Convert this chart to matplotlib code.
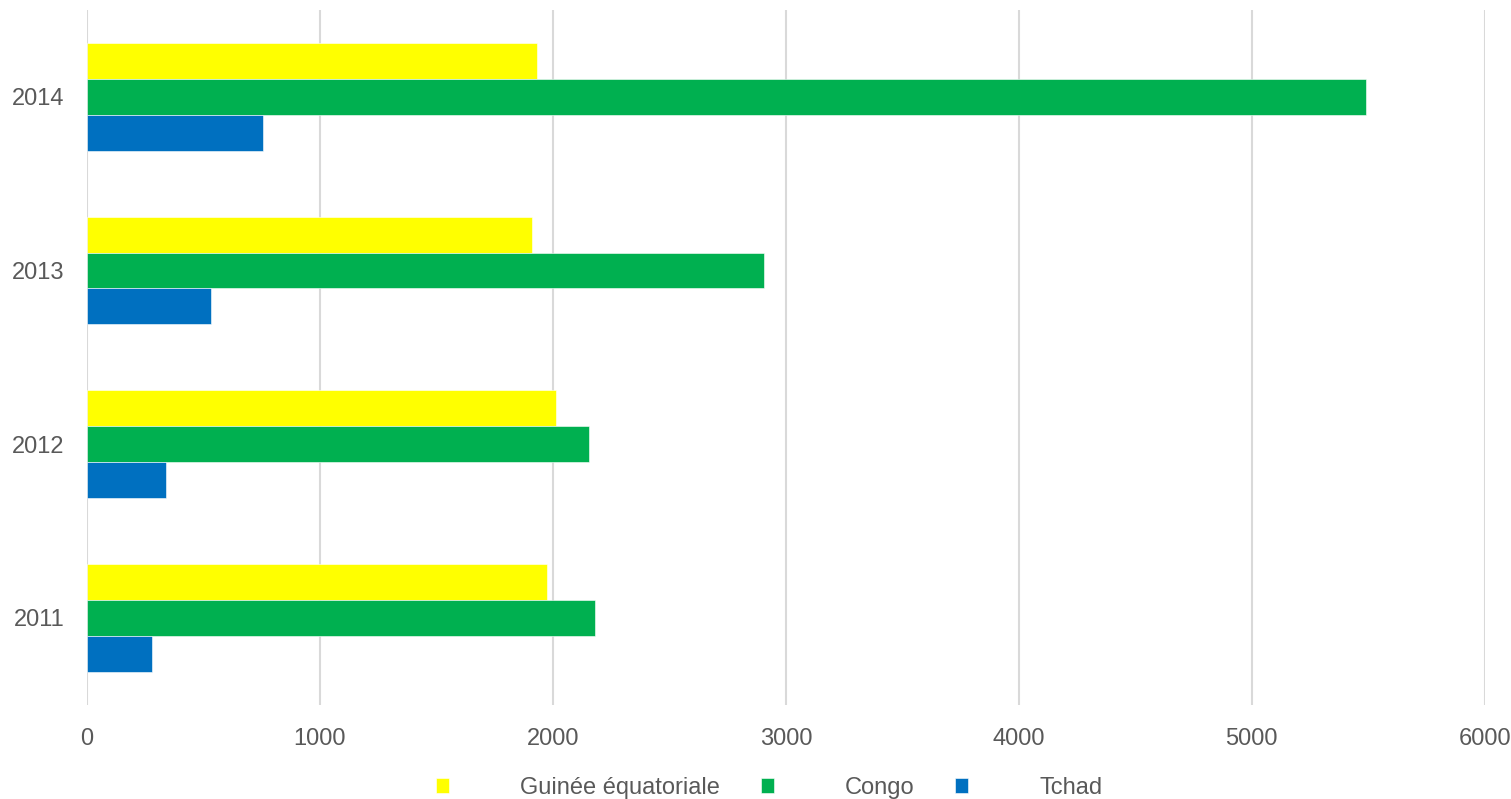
import matplotlib.pyplot as plt
import numpy as np

# data
years = ["2011", "2012", "2013", "2014"]
guinee = [1973, 2015, 1911, 1930]
congo = [2181, 2153, 2905, 5490]
tchad = [278, 341, 534, 756]

series = ["Guinée équatoriale", "Congo", "Tchad"]
colors = ["#FFFF00", "#00B050", "#0070C0"]

plt.rcParams["font.family"] = ["Liberation Sans", "DejaVu Sans"]

fig = plt.figure(figsize=(15.11, 7.99), dpi=100)
ax = fig.add_axes([0.0576, 0.118, 0.925, 0.8695])

y = np.arange(len(years))
h = 0.207

# yellow on top, then green, then blue
for i, (vals, name, col) in enumerate(zip([guinee, congo, tchad], series, colors)):
    ax.barh(y + (1 - i) * h, vals, height=h, color=col, label=name,
            edgecolor="white", linewidth=0.4, zorder=3)

ax.set_xlim(0, 6000)
ax.set_ylim(-0.5, 3.5)
ax.set_xticks(range(0, 6001, 1000))
ax.set_yticks(y)
ax.set_yticklabels(years)

ax.grid(axis="x", color="#d9d9d9", linewidth=1.5, zorder=0)
for s in ax.spines.values():
    s.set_visible(False)
ax.tick_params(length=0, labelsize=17, labelcolor="#595959")
ax.tick_params(axis="x", pad=17)
ax.tick_params(axis="y", pad=16)

leg = fig.legend(loc="center", bbox_to_anchor=(0.509, 0.014), ncol=3,
                 frameon=False, fontsize=17, handlelength=0.55,
                 handleheight=0.55, handletextpad=3.0, columnspacing=1.74)
for t in leg.get_texts():
    t.set_color("#595959")

fig.savefig("out.png", dpi=100)
